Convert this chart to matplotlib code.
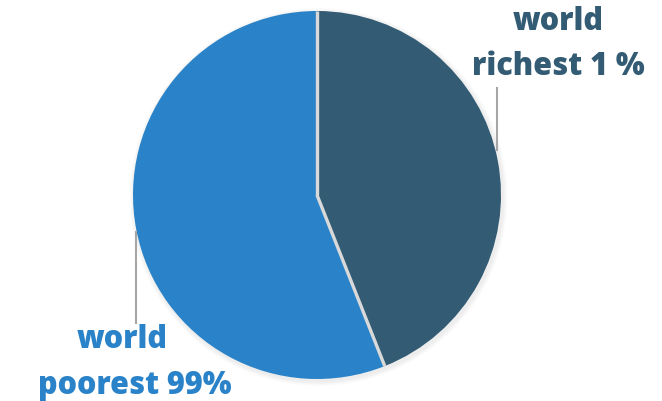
import matplotlib
matplotlib.use("Agg")
import matplotlib.pyplot as plt
import numpy as np

# wealth share (%)
shares = [44, 56]
colors = ["#335b74", "#2a83c8"]
top_lines = ["world", "richest 1 %"]
bottom_lines = ["world", "poorest 99%"]

W, H = 662, 401
fig = plt.figure(figsize=(W / 100, H / 100), dpi=100)
ax = fig.add_axes([0, 0, 1, 1])

cx, cy, r = 317, H - 195, 184

# soft shadow
for k in range(6):
    ax.add_patch(plt.Circle((cx + 1.5, cy - 2), r + 1 + k * 0.8,
                            color="#000000", alpha=0.012, lw=0, zorder=0))

wedges, _ = ax.pie(shares, colors=colors, startangle=90, counterclock=False,
                   center=(cx, cy), radius=r,
                   wedgeprops=dict(linewidth=0))

# separators between the slices
for ang in np.cumsum([0] + shares[:-1]):
    a = np.deg2rad(90 - ang / sum(shares) * 360)
    ax.plot([cx, cx + r * np.cos(a)], [cy, cy + r * np.sin(a)],
            color="#d9d9d9", lw=2.4, solid_capstyle="butt", zorder=5)

# leader lines
ax.plot([497, 497], [H - 88, H - 150], color="#a6a6a6", lw=1.5)
ax.plot([136, 136], [H - 232, H - 323], color="#a6a6a6", lw=1.5)

font = dict(family="Open Sans", weight=800, fontsize=22, va="baseline")
ax.text(558, H - 30, top_lines[0], color=colors[0], ha="center", **font)
ax.text(558, H - 75, top_lines[1], color=colors[0], ha="center", **font)
ax.text(122, H - 348, bottom_lines[0], color=colors[1], ha="center", **font)
ax.text(135, H - 394, bottom_lines[1], color=colors[1], ha="center", **font)

ax.set_xlim(0, W)
ax.set_ylim(0, H)
ax.set_aspect("equal")
ax.axis("off")
fig.savefig("out.png", dpi=100)
